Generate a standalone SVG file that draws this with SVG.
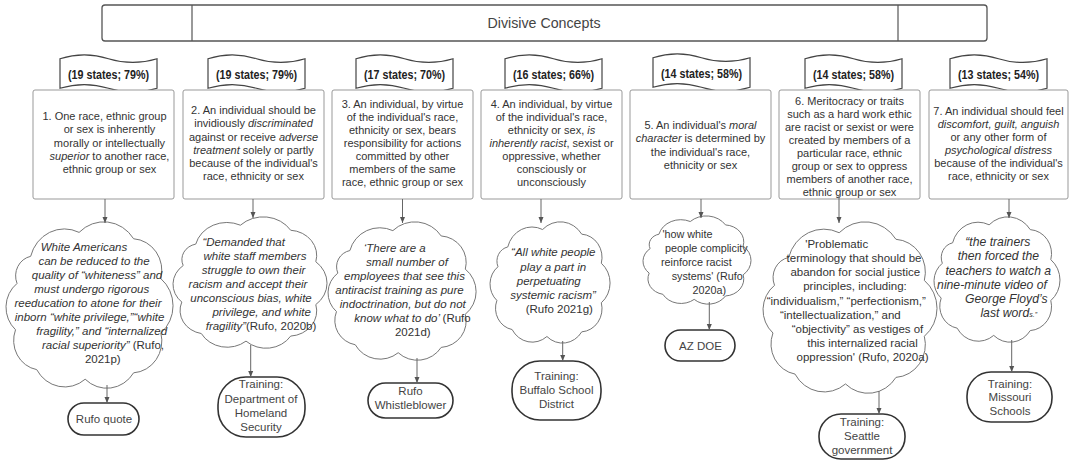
<svg xmlns="http://www.w3.org/2000/svg" xmlns:xlink="http://www.w3.org/1999/xlink" width="1069" height="465" viewBox="0 0 1069 465">
<defs>
<style>
text{font-family:"Liberation Sans",Arial,sans-serif;fill:#333}
.title{font-size:15px;fill:#444;text-anchor:middle}
.ban{font-size:12px;font-weight:bold;text-anchor:middle;fill:#222}
.bx{font-size:11px;text-anchor:middle}
.cl{font-size:11.5px;text-anchor:middle}
.tm{font-size:11.5px;text-anchor:middle;fill:#444}
.i{font-style:italic}
.n{font-style:normal}
.box{fill:#fff;stroke:#999;stroke-width:1}
.hdr{fill:#fff;stroke:#555;stroke-width:1.3}
.term{fill:#fff;stroke:#333;stroke-width:1.6}
.conn line{stroke:#666;stroke-width:1;marker-end:url(#ah)}
</style>
<marker id="ah" markerWidth="8" markerHeight="8" refX="6" refY="4" orient="auto" markerUnits="userSpaceOnUse"><path d="M0 1.5 L6 4 L0 6.5 Z" fill="#555"/></marker>
<path id="cloud" d="M12 20 A23 23 0 0 1 44 5 A23.5 23.5 0 0 1 80 9 A20 20 0 0 1 98 34 A22 22 0 0 1 98 68 A20 20 0 0 1 80 93 A21 21 0 0 1 48 97 A21.2 21.2 0 0 1 16 91 A18.6 18.6 0 0 1 2 66 A18.9 18.9 0 0 1 3 37 A12.5 12.5 0 0 1 12 20 Z" fill="#fff" stroke="#777" stroke-width="1" vector-effect="non-scaling-stroke"/>
<path id="tape" d="M0 10 C16 -3 34 -3 50 10 C66 23 84 23 100 10 L100 90 C84 103 66 103 50 90 C34 77 16 77 0 90 Z" fill="#fff" stroke="#444" stroke-width="1.2" vector-effect="non-scaling-stroke"/>
</defs>
<rect width="1069" height="465" fill="#fff"/>

<g id="header">
<rect x="102" y="5" width="885" height="36" rx="3" class="hdr"/>
<line x1="192" y1="5" x2="192" y2="41" stroke="#555" stroke-width="1.2"/>
<line x1="898" y1="5" x2="898" y2="41" stroke="#555" stroke-width="1.2"/>
<text x="544" y="28" class="title" textLength="113" lengthAdjust="spacingAndGlyphs">Divisive Concepts</text>
</g>

<g id="banner1"><use xlink:href="#tape" transform="translate(60,55) scale(0.97,0.37)"/><text x="108.5" y="78.5" class="ban" textLength="81" lengthAdjust="spacingAndGlyphs">(19 states; 79%)</text></g>
<g id="banner2"><use xlink:href="#tape" transform="translate(208,55) scale(0.97,0.37)"/><text x="256.5" y="78.5" class="ban" textLength="81" lengthAdjust="spacingAndGlyphs">(19 states; 79%)</text></g>
<g id="banner3"><use xlink:href="#tape" transform="translate(356,55) scale(0.97,0.37)"/><text x="404.5" y="78.5" class="ban" textLength="81" lengthAdjust="spacingAndGlyphs">(17 states; 70%)</text></g>
<g id="banner4"><use xlink:href="#tape" transform="translate(505,55) scale(0.97,0.37)"/><text x="553.5" y="78.5" class="ban" textLength="81" lengthAdjust="spacingAndGlyphs">(16 states; 66%)</text></g>
<g id="banner5"><use xlink:href="#tape" transform="translate(653,54) scale(0.97,0.37)"/><text x="701.5" y="77.5" class="ban" textLength="81" lengthAdjust="spacingAndGlyphs">(14 states; 58%)</text></g>
<g id="banner6"><use xlink:href="#tape" transform="translate(805,55) scale(0.97,0.37)"/><text x="853.5" y="78.5" class="ban" textLength="81" lengthAdjust="spacingAndGlyphs">(14 states; 58%)</text></g>
<g id="banner7"><use xlink:href="#tape" transform="translate(950,55) scale(0.97,0.37)"/><text x="998.5" y="78.5" class="ban" textLength="81" lengthAdjust="spacingAndGlyphs">(13 states; 54%)</text></g>

<g id="box1"><rect x="33" y="90" width="141" height="109" rx="2" class="box"/>
<text class="bx"><tspan x="104.5" y="120">1. One race, ethnic group</tspan><tspan x="109.5" y="133.3">or sex is inherently</tspan><tspan x="109.5" y="146.6">morally or intellectually</tspan><tspan x="109.5" y="160"><tspan class="i">superior</tspan> to another race,</tspan><tspan x="109.5" y="173.3">ethnic group or sex</tspan></text></g>

<g id="box2"><rect x="183" y="90" width="141" height="109" rx="2" class="box"/>
<text class="bx"><tspan x="253.5" y="114">2. An individual should be</tspan><tspan x="253.5" y="127.3">invidiously <tspan class="i">discriminated</tspan></tspan><tspan x="253.5" y="140.5">against or receive <tspan class="i">adverse</tspan></tspan><tspan x="253.5" y="153.6"><tspan class="i">treatment</tspan> solely or partly</tspan><tspan x="253.5" y="166.6">because of the individual's</tspan><tspan x="253.5" y="179.6">race, ethnicity or sex</tspan></text></g>

<g id="box3"><rect x="332" y="90" width="141" height="109" rx="2" class="box"/>
<text class="bx"><tspan x="402.5" y="108">3. An individual, by virtue</tspan><tspan x="402.5" y="121">of the individual's race,</tspan><tspan x="402.5" y="134">ethnicity or sex, bears</tspan><tspan x="402.5" y="147">responsibility for actions</tspan><tspan x="402.5" y="160">committed by other</tspan><tspan x="402.5" y="173">members of the same</tspan><tspan x="402.5" y="186">race, ethnic group or sex</tspan></text></g>

<g id="box4"><rect x="481" y="90" width="141" height="109" rx="2" class="box"/>
<text class="bx"><tspan x="551.5" y="108">4. An individual, by virtue</tspan><tspan x="551.5" y="121">of the individual's race,</tspan><tspan x="551.5" y="134">ethnicity or sex, <tspan class="i">is</tspan></tspan><tspan x="551.5" y="147"><tspan class="i">inherently racist</tspan>, sexist or</tspan><tspan x="551.5" y="160">oppressive, whether</tspan><tspan x="551.5" y="173">consciously or</tspan><tspan x="551.5" y="186">unconsciously</tspan></text></g>

<g id="box5"><rect x="630" y="90" width="141" height="109" rx="2" class="box"/>
<text class="bx"><tspan x="700.5" y="129">5. An individual's <tspan class="i">moral</tspan></tspan><tspan x="700.5" y="142.3"><tspan class="i">character</tspan> is determined by</tspan><tspan x="700.5" y="155.6">the individual's race,</tspan><tspan x="700.5" y="168.9">ethnicity or sex</tspan></text></g>

<g id="box6"><rect x="779" y="90" width="141" height="109" rx="2" class="box"/>
<text class="bx"><tspan x="849.5" y="105">6. Meritocracy or traits</tspan><tspan x="849.5" y="118">such as a hard work ethic</tspan><tspan x="849.5" y="131">are racist or sexist or were</tspan><tspan x="849.5" y="144">created by members of a</tspan><tspan x="849.5" y="157">particular race, ethnic</tspan><tspan x="849.5" y="170">group or sex to oppress</tspan><tspan x="849.5" y="183">members of another race,</tspan><tspan x="849.5" y="196">ethnic group or sex</tspan></text></g>

<g id="box7"><rect x="929" y="90" width="139" height="109" rx="2" class="box"/>
<text class="bx"><tspan x="998.5" y="114.5">7. An individual should feel</tspan><tspan x="998.5" y="127.5" class="i">discomfort, guilt, anguish</tspan><tspan x="998.5" y="140.5">or any other form of</tspan><tspan x="998.5" y="153.5" class="i">psychological distress</tspan><tspan x="998.5" y="166.5">because of the individual's</tspan><tspan x="998.5" y="179.5">race, ethnicity or sex</tspan></text></g>

<g id="cloud1"><use xlink:href="#cloud" transform="translate(12.5,224.4) scale(1.514,1.596)"/>
<text class="cl i"><tspan x="84" y="251">White Americans</tspan><tspan x="94" y="265">can be reduced to the</tspan><tspan x="97" y="279">quality of “whiteness” and</tspan><tspan x="91.7" y="293">must undergo rigorous</tspan><tspan x="88" y="307">reeducation to atone for their</tspan><tspan x="89.5" y="321">inborn “white privilege,”“white</tspan><tspan x="101.7" y="335">fragility,” and “internalized</tspan><tspan x="103" y="349">racial superiority” <tspan class="n">(Rufo,</tspan></tspan><tspan x="102.8" y="363" class="n">2021p)</tspan></text></g>

<g id="cloud2"><use xlink:href="#cloud" transform="translate(179,218.9) scale(1.396,1.26)"/>
<text class="cl i"><tspan x="243.7" y="246">“Demanded that</tspan><tspan x="255" y="260">white staff members</tspan><tspan x="253.5" y="274">struggle to own their</tspan><tspan x="248" y="288">racism and accept their</tspan><tspan x="251" y="302">unconscious bias, white</tspan><tspan x="261.7" y="316">privilege, and white</tspan><tspan x="261" y="330">fragility”<tspan class="n">(Rufo, 2020b)</tspan></tspan></text></g>

<g id="cloud3"><use xlink:href="#cloud" transform="translate(333.8,224) scale(1.342,1.327)"/>
<text class="cl i"><tspan x="394.7" y="252">‘There are a</tspan><tspan x="407" y="266">small number of</tspan><tspan x="404.5" y="280">employees that see this</tspan><tspan x="399.5" y="294">antiracist training as pure</tspan><tspan x="402.8" y="308">indoctrination, but do not</tspan><tspan x="412.5" y="322">know what to do’ <tspan class="n">(Rufo</tspan></tspan><tspan x="412.8" y="336" class="n">2021d)</tspan></text></g>

<g id="cloud4"><use xlink:href="#cloud" transform="translate(494.7,223.7) scale(1.088,1.163)"/>
<text class="cl i"><tspan x="553.3" y="256">“All white people</tspan><tspan x="553.3" y="270.5">play a part in</tspan><tspan x="548.8" y="284.5">perpetuating</tspan><tspan x="553" y="299">systemic racism”</tspan><tspan x="559.3" y="313" class="n">(Rufo 2021g)</tspan></text></g>

<g id="cloud5"><use xlink:href="#cloud" transform="translate(647.2,217.3) scale(0.979,0.846)"/>
<text class="cl" style="font-size:10.8px"><tspan x="687.5" y="238">'how white</tspan><tspan x="706.3" y="252">people complicity</tspan><tspan x="696.3" y="266">reinforce racist</tspan><tspan x="707.2" y="280">systems' (Rufo</tspan><tspan x="709.3" y="294">2020a)</tspan></text></g>

<g id="cloud6"><use xlink:href="#cloud" transform="translate(769.8,224.5) scale(1.577,1.644)"/>
<text class="cl"><tspan x="836.7" y="247.5">'Problematic</tspan><tspan x="854" y="262">terminology that should be</tspan><tspan x="855.3" y="276">abandon for social justice</tspan><tspan x="855" y="290">principles, including:</tspan><tspan x="846.3" y="304.5">“individualism,” “perfectionism,”</tspan><tspan x="840.3" y="318.5">“intellectualization,” and</tspan><tspan x="857.5" y="332.5">“objectivity” as vestiges of</tspan><tspan x="862.5" y="346.5">this internalized racial</tspan><tspan x="862.5" y="360.5">oppression' (Rufo, 2020a)</tspan></text></g>

<g id="cloud7"><use xlink:href="#cloud" transform="translate(938.9,218.8) scale(1.142,1.202)"/>
<text class="cl i" style="font-size:12.2px"><tspan x="997.8" y="246">“the trainers</tspan><tspan x="998.3" y="260">then forced the</tspan><tspan x="998.3" y="274.5">teachers to watch a</tspan><tspan x="992" y="289">nine-minute video of</tspan><tspan x="1006.3" y="303">George Floyd’s</tspan><tspan x="1008.7" y="317">last word<tspan style="font-size:7px">s.”</tspan></tspan></text></g>

<g id="term1"><rect x="68" y="403" width="71" height="32" rx="16" class="term"/><text class="tm" x="104" y="423">Rufo quote</text></g>
<g id="term2"><rect x="218" y="377" width="87" height="60" rx="28" class="term"/><text class="tm"><tspan x="261" y="388">Training:</tspan><tspan x="261" y="402.5">Department of</tspan><tspan x="261" y="416.5">Homeland</tspan><tspan x="261" y="430.5">Security</tspan></text></g>
<g id="term3"><rect x="368" y="383" width="85" height="35" rx="17.5" class="term"/><text class="tm"><tspan x="410.5" y="395">Rufo</tspan><tspan x="410.5" y="409">Whistleblower</tspan></text></g>
<g id="term4"><rect x="512" y="361" width="89" height="59" rx="28" class="term"/><text class="tm"><tspan x="556.5" y="379.5">Training:</tspan><tspan x="556.5" y="393.5">Buffalo School</tspan><tspan x="556.5" y="407.5">District</tspan></text></g>
<g id="term5"><rect x="665" y="330" width="70" height="31" rx="15.5" class="term"/><text class="tm" x="700.5" y="349.5">AZ DOE</text></g>
<g id="term6"><rect x="819" y="414" width="86" height="45" rx="22" class="term"/><text class="tm"><tspan x="862" y="426">Training:</tspan><tspan x="862" y="440">Seattle</tspan><tspan x="862" y="454">government</tspan></text></g>
<g id="term7"><rect x="967" y="372" width="85" height="50" rx="24" class="term"/><text class="tm"><tspan x="1010" y="387.5">Training:</tspan><tspan x="1010" y="401">Missouri</tspan><tspan x="1010" y="415">Schools</tspan></text></g>

<g id="connectors" class="conn">
<line x1="105" y1="199" x2="105" y2="223"/>
<line x1="253" y1="199" x2="253" y2="218"/>
<line x1="402.5" y1="199" x2="402.5" y2="223"/>
<line x1="541" y1="199" x2="541" y2="223"/>
<line x1="701" y1="199" x2="701" y2="218"/>
<line x1="839" y1="196" x2="839" y2="223"/>
<line x1="1009" y1="199" x2="1009" y2="218"/>
<line x1="107" y1="385" x2="107" y2="403"/>
<line x1="250.7" y1="345" x2="250.7" y2="377"/>
<line x1="417" y1="358" x2="417" y2="383"/>
<line x1="562.7" y1="341" x2="562.7" y2="361"/>
<line x1="709.3" y1="302" x2="709.3" y2="330"/>
<line x1="879" y1="391" x2="879" y2="414"/>
<line x1="1011.7" y1="340" x2="1011.7" y2="372"/>
</g>
</svg>
